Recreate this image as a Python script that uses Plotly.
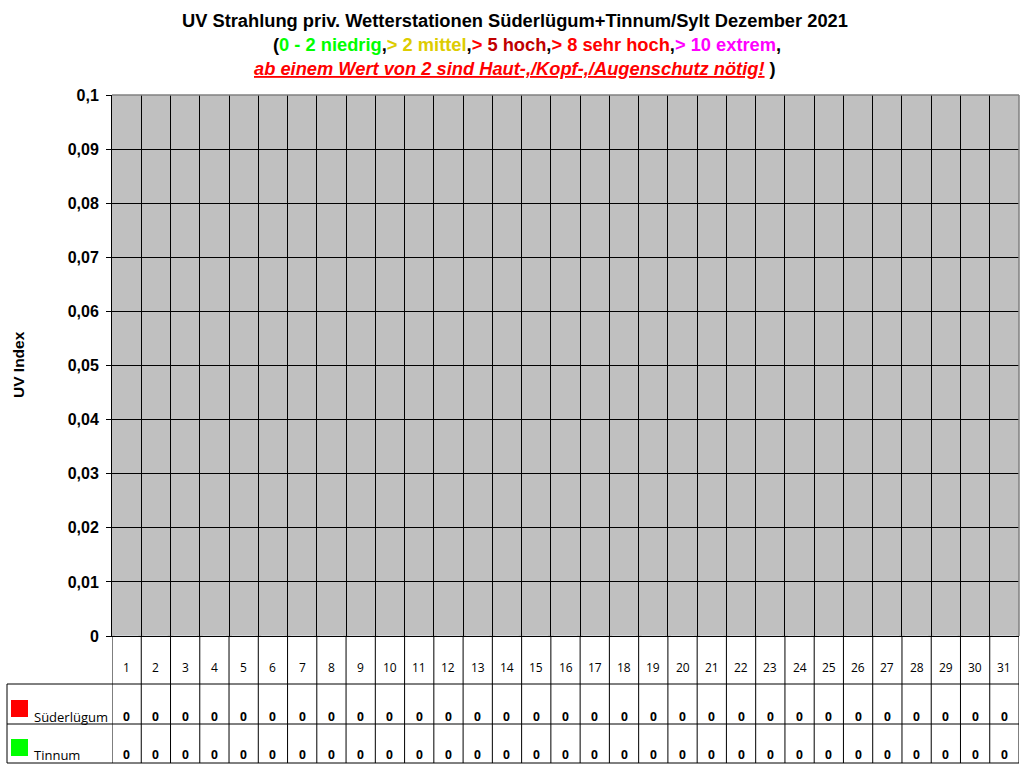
"""
UV Strahlung Dezember 2021 — Excel-Diagramm mit Datentabelle nachgebaut
"""
import plotly.graph_objects as go

# ── Daten ────────────────────────────────────────────────────────────────
tage = [str(d) for d in range(1, 32)]
suederluegum = [0] * 31
tinnum = [0] * 31
reihen = ["Süderlügum", "Tinnum"]
reihen_farben = ["#FF0000", "#00FF00"]
y_ticks = [0, 0.01, 0.02, 0.03, 0.04, 0.05, 0.06, 0.07, 0.08, 0.09, 0.1]

# ── Layout-Konstanten (Pixel) ────────────────────────────────────────────
W, H = 1024, 768
L, R, T, B = 112, 1019, 95, 636
PW, PH = R - L, B - T


def py(y):  # Pixel-y -> paper
    return (B - y) / PH


def px_(x):  # Pixel-x -> paper
    return (x - L) / PW


fig = go.Figure()
for name, vals, col in zip(reihen, [suederluegum, tinnum], reihen_farben):
    fig.add_trace(go.Bar(x=tage, y=vals, name=name, marker_color=col, showlegend=False))

fig.update_layout(
    width=W, height=H,
    margin=dict(l=L, r=W - R, t=T, b=H - B, pad=0),
    paper_bgcolor="white", plot_bgcolor="#C0C0C0",
    separators=",.",
    font=dict(family="Liberation Sans, Arial", color="black"),
    barmode="group",
)
fig.update_xaxes(
    type="category", tickson="boundaries", showgrid=True, gridcolor="black", gridwidth=1,
    showticklabels=False, ticks="", showline=True, linecolor="black", linewidth=1,
    range=[-0.5, 30.5], fixedrange=True,
)
fig.update_yaxes(
    range=[0, 0.1], tickvals=y_ticks, showgrid=True, gridcolor="black", gridwidth=1,
    ticks="outside", ticklen=5, tickcolor="black", showline=True, linecolor="black",
    tickfont=dict(family="Liberation Sans, Arial", size=16, color="black", weight="bold"),
    ticklabelstandoff=4, zeroline=False,
)

shapes = []
# grauer Rahmen oben/rechts
shapes.append(dict(type="line", xref="paper", yref="paper", x0=0, x1=1, y0=1, y1=1,
                   line=dict(color="#808080", width=1.5)))
shapes.append(dict(type="line", xref="paper", yref="paper", x0=1, x1=1, y0=0, y1=1,
                   line=dict(color="#808080", width=1.5)))

# Datentabelle: vertikale Linien an den Kategoriegrenzen
for i in range(len(tage) + 1):
    shapes.append(dict(type="line", xref="x", yref="paper", x0=i - 0.5, x1=i - 0.5,
                       y0=0, y1=py(763), line=dict(color="black", width=1)))
# horizontale Linien
for yy in (684, 724, 763):
    shapes.append(dict(type="line", xref="paper", yref="paper", x0=px_(7), x1=1.0,
                       y0=py(yy), y1=py(yy), line=dict(color="black", width=1)))
shapes.append(dict(type="line", xref="paper", yref="paper", x0=px_(7), x1=px_(7),
                   y0=py(684), y1=py(763), line=dict(color="black", width=1)))

# Legendenschlüssel
for k, (name, col) in enumerate(zip(reihen, reihen_farben)):
    top = 700 + k * 39
    shapes.append(dict(type="rect", xref="paper", yref="paper",
                       x0=px_(11), x1=px_(28), y0=py(top + 17), y1=py(top),
                       fillcolor=col, line=dict(width=0)))

ann = []
tab_font = dict(family="Open Sans", size=12, color="black")
# Kategorieachse: Annotationen über den Index platzieren
for i, t in enumerate(tage):
    ann.append(dict(x=i, xref="x", y=py(667), yref="paper", text=t, showarrow=False,
                    font=tab_font, xanchor="center", yanchor="middle"))
for k, vals in enumerate([suederluegum, tinnum]):
    yy = 716 + k * 38
    for i, v in enumerate(vals):
        ann.append(dict(x=i, xref="x", y=py(yy), yref="paper",
                        text=f"<b>{v:g}</b>".replace(".", ","), showarrow=False,
                        font=tab_font, xanchor="center", yanchor="middle"))
    ann.append(dict(x=px_(32), xref="paper", y=py(yy + 1), yref="paper", text=reihen[k],
                    showarrow=False, font=dict(family="Open Sans", size=13, color="black"),
                    xanchor="left", yanchor="middle"))

# Achsentitel
ann.append(dict(x=px_(18), xref="paper", y=py(365), yref="paper", text="<b>UV Index</b>",
                textangle=-90, showarrow=False, xanchor="center", yanchor="middle",
                font=dict(family="Liberation Sans, Arial", size=15.5, color="black")))

# Titel
tf = dict(family="Liberation Sans, Arial", size=18.3, color="black")
ann.append(dict(x=px_(515), xref="paper", y=py(20), yref="paper", showarrow=False,
                text="<b>UV Strahlung priv. Wetterstationen Süderlügum+Tinnum/Sylt Dezember 2021</b>",
                font=tf, xanchor="center", yanchor="middle"))
zeile2 = (
    "<b>(<span style='color:#00FF00'>0 - 2 niedrig</span>,"
    "<span style='color:#DDCC00'>> 2 mittel</span>,"
    "<span style='color:#FF0000'>> </span><span style='color:#C00000'>5 hoch</span>,"
    "<span style='color:#FF0000'>> 8 sehr hoch</span>,"
    "<span style='color:#FF00FF'>> 10 extrem</span>,</b>"
)
ann.append(dict(x=px_(527), xref="paper", y=py(45), yref="paper", showarrow=False,
                text=zeile2, font=tf, xanchor="center", yanchor="middle"))
zeile3 = (
    "<b><i><span style='color:#FF0000;text-decoration:underline'>"
    "ab einem Wert von 2 sind Haut-,/Kopf-,/Augenschutz nötig!</span></i> )</b>"
)
ann.append(dict(x=px_(515), xref="paper", y=py(68), yref="paper", showarrow=False,
                text=zeile3, font=tf, xanchor="center", yanchor="middle"))

fig.update_layout(shapes=shapes, annotations=ann)
fig.write_html("out.html", config={"displayModeBar": False},
               post_script="document.body.style.margin='0';")
